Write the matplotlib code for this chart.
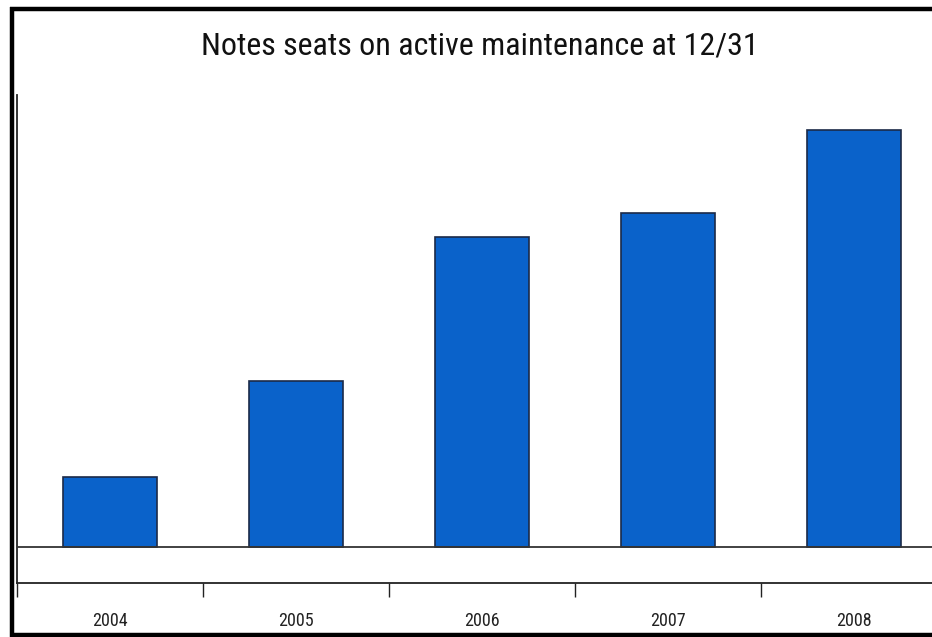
import numpy as np
import matplotlib
matplotlib.use('Agg')
import matplotlib.pyplot as plt
from matplotlib.lines import Line2D

plt.rcParams['font.family'] = ['Roboto Condensed', 'Archivo Narrow', 'DejaVu Sans']

# data (arbitrary units - no y scale shown)
years = ['2004', '2005', '2006', '2007', '2008']
seats = [70, 166, 310, 334, 417]

fig = plt.figure(figsize=(9.32, 6.37), dpi=100)
ax = fig.add_axes([17 / 932, 1 - 583 / 637, 930 / 932, (583 - 95) / 637])

x = np.arange(len(years))
ax.bar(x, seats, width=0.505, color='#0A62CA', edgecolor='#1b2a48', linewidth=1.2, zorder=2)
ax.axhline(0, color='#333333', linewidth=1.3, zorder=3)

ax.set_xlim(-0.5, 4.5)
ax.set_ylim(-36, 452)

# boundary ticks without labels, year labels in between
ax.set_xticks(np.arange(-0.5, 5, 1.0))
ax.set_xticklabels([])
ax.set_xticks(x, minor=True)
ax.set_xticklabels(years, minor=True, fontsize=13, color='#222222')
ax.tick_params(axis='x', which='major', length=10, width=1.0, direction='out', color='#222222')
ax.tick_params(axis='x', which='minor', length=0, pad=21)
ax.set_yticks([])

for s in ['top', 'right']:
    ax.spines[s].set_visible(False)
for s in ['left', 'bottom']:
    ax.spines[s].set_linewidth(1.3)
    ax.spines[s].set_color('#222222')

fig.text(480 / 932, 1 - 46 / 637, 'Notes seats on active maintenance at 12/31',
         ha='center', va='center', fontsize=23, color='#111111')

# thick frame on left, top and bottom
kw = dict(transform=fig.transFigure, color='black', linewidth=3.2, solid_capstyle='butt')
fig.add_artist(Line2D([12 / 932, 12 / 932], [1 - 7 / 637, 1 - 637 / 637], **kw))
fig.add_artist(Line2D([10 / 932, 1.0], [1 - 9 / 637, 1 - 9 / 637], **kw))
fig.add_artist(Line2D([10 / 932, 1.0], [1 - 635 / 637, 1 - 635 / 637], **kw))

fig.savefig('out.png', dpi=100)
